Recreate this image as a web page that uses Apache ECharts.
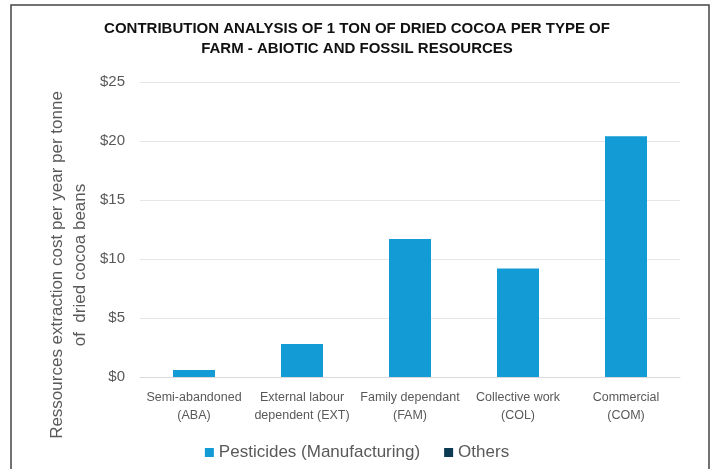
<!DOCTYPE html>
<html>
<head>
<meta charset="utf-8">
<script src="https://cdn.jsdelivr.net/npm/echarts@6/dist/echarts.min.js"></script>
<style>
  html, body { margin: 0; padding: 0; background: #fff; }
  #chart { width: 714px; height: 469px; }
</style>
</head>
<body>
<div id="chart"></div>
<script>
// farm types (x axis)
const farmTypes = [
  "Semi-abandoned\n(ABA)",
  "External labour\ndependent (EXT)",
  "Family dependant\n(FAM)",
  "Collective work\n(COL)",
  "Commercial\n(COM)",
];
// $ per tonne of dried cocoa beans
const pesticides = [0.6, 2.8, 11.7, 9.2, 20.4];
const others = [0, 0, 0, 0, 0];
const yTicks = [0, 5, 10, 15, 20, 25];

const sans = '"Liberation Sans", sans-serif';
const myChart = echarts.init(document.getElementById("chart"));

const option = {
  animation: false,
  title: {
    text: "CONTRIBUTION ANALYSIS OF 1 TON OF DRIED COCOA PER TYPE OF\nFARM - ABIOTIC AND FOSSIL RESOURCES",
    left: "center",
    top: 14,
    textStyle: {
      fontFamily: sans,
      fontWeight: "bold",
      fontSize: 15,
      lineHeight: 20,
      color: "#111",
    },
  },
  graphic: [
    {
      type: "rect",
      shape: { x: 11, y: 5, width: 698, height: 480 },
      style: { fill: "none", stroke: "#444", lineWidth: 1.5 },
      silent: true,
    },
    {
      type: "text",
      x: 69,
      y: 265,
      rotation: Math.PI / 2,
      style: {
        text: "Ressources extraction cost per year per tonne\nof  dried cocoa beans",
        fontFamily: sans,
        fontSize: 17,
        lineHeight: 23,
        fill: "#595959",
        align: "center",
        verticalAlign: "middle",
      },
    },
  ],
  legend: {
    bottom: 3,
    left: "center",
    itemWidth: 9,
    itemHeight: 9,
    itemGap: 24,
    icon: "rect",
    textStyle: { fontFamily: sans, fontSize: 17, color: "#595959" },
    data: ["Pesticides (Manufacturing)", "Others"],
  },
  grid: { left: 140, right: 34, top: 82, bottom: 92 },
  xAxis: {
    type: "category",
    data: farmTypes,
    axisLine: { lineStyle: { color: "#d9d9d9" } },
    axisTick: { show: false },
    axisLabel: {
      interval: 0,
      margin: 12,
      fontFamily: sans,
      fontSize: 12.5,
      lineHeight: 18,
      color: "#595959",
    },
  },
  yAxis: {
    type: "value",
    min: yTicks[0],
    max: yTicks[yTicks.length - 1],
    interval: 5,
    axisLine: { show: false },
    axisTick: { show: false },
    splitLine: { lineStyle: { color: "#e6e6e6" } },
    axisLabel: {
      margin: 15,
      fontFamily: sans,
      fontSize: 15,
      color: "#595959",
      formatter: (v) => "$" + v,
    },
  },
  series: [
    {
      name: "Pesticides (Manufacturing)",
      type: "bar",
      stack: "total",
      barWidth: 42,
      data: pesticides,
      itemStyle: { color: "#139bd5" },
    },
    {
      name: "Others",
      type: "bar",
      stack: "total",
      barWidth: 42,
      data: others,
      itemStyle: { color: "#0d3a53" },
    },
  ],
};

option && myChart.setOption(option);
</script>
</body>
</html>
